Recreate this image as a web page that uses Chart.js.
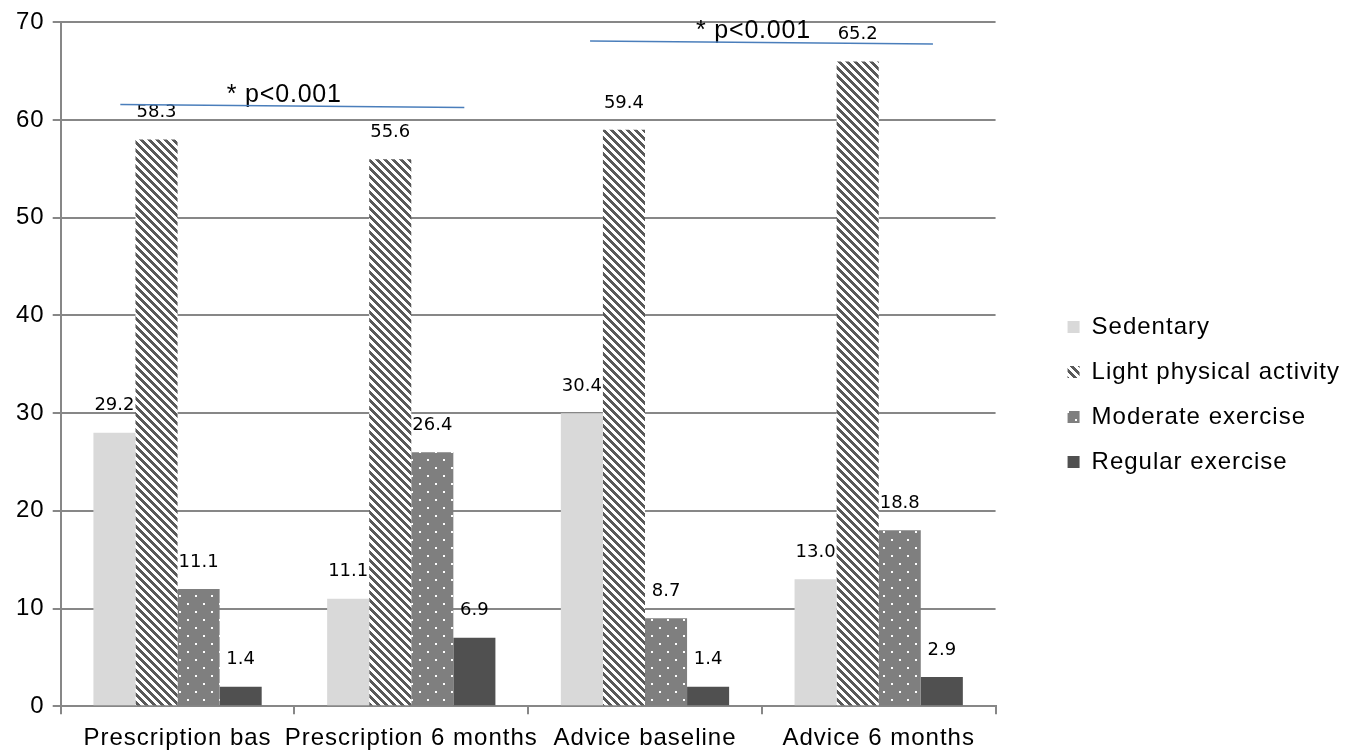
<!DOCTYPE html>
<html>
<head>
<meta charset="utf-8">
<script src="https://cdn.jsdelivr.net/npm/chart.js@4.4.1/dist/chart.umd.min.js"></script>
<style>
  html, body { margin: 0; padding: 0; background: #fff; }
  #wrap { width: 1352px; height: 751px; }
</style>
</head>
<body>
<div id="wrap"><canvas id="chart"></canvas></div>
<script>
const groups = ["Prescription bas", "Prescription 6 months", "Advice baseline", "Advice 6 months"];
const seriesNames = ["Sedentary", "Light physical activity", "Moderate exercise", "Regular exercise"];

// bar heights as drawn in the picture
const sedentary = [28, 11, 30, 13];
const lightActivity = [58, 56, 59, 66];
const moderateExercise = [12, 26, 9, 18];
const regularExercise = [2, 7, 2, 3];

// numbers printed over the bars
const sedentaryLabels = ["29.2", "11.1", "30.4", "13.0"];
const lightActivityLabels = ["58.3", "55.6", "59.4", "65.2"];
const moderateExerciseLabels = ["11.1", "26.4", "8.7", "18.8"];
const regularExerciseLabels = ["1.4", "6.9", "1.4", "2.9"];

const yTicks = [0, 10, 20, 30, 40, 50, 60, 70];
const pNote = "* p<0.001";

// significance brackets, in (category index, value) units
const sigLines = [
  { from: [-0.245, 61.6], to: [1.227, 61.3] },
  { from: [1.765, 68.1], to: [3.232, 67.8] },
];

const AXIS_FONT = "'Liberation Sans', Arial, sans-serif";
const GRID = "#878787";
const SPACING = "1px";

function stripePattern() {
  const c = document.createElement("canvas");
  c.width = 8; c.height = 8;
  const g = c.getContext("2d");
  g.fillStyle = "#fff";
  g.fillRect(0, 0, 8, 8);
  g.fillStyle = "#595959";
  for (let py = 0; py < 8; py++) {
    for (let px = 0; px < 8; px++) {
      if ((px - py + 64) % 8 < 4) g.fillRect(px, py, 1, 1);
    }
  }
  return g.createPattern(c, "repeat");
}

function dotPattern() {
  const c = document.createElement("canvas");
  c.width = 16; c.height = 16;
  const g = c.getContext("2d");
  g.fillStyle = "#7f7f7f";
  g.fillRect(0, 0, 16, 16);
  g.fillStyle = "#fff";
  g.fillRect(3, 3, 2, 2);
  g.fillRect(11, 11, 2, 2);
  return g.createPattern(c, "repeat");
}

const labelSets = [sedentaryLabels, lightActivityLabels, moderateExerciseLabels, regularExerciseLabels];

// Excel-ish wide text for axes and legend
const textSpacing = {
  id: "textSpacing",
  beforeLayout(chart) { chart.ctx.letterSpacing = SPACING; },
  beforeDraw(chart) { chart.ctx.letterSpacing = SPACING; },
};

// push the legend to the right edge, leaving a gap after the plot
const legendShift = {
  id: "legendShift",
  afterLayout(chart) {
    const lg = chart.legend;
    const dx = chart.width - 2 - lg.right;
    lg.left += dx;
    lg.right += dx;
    lg.top += 7;
    lg.bottom += 7;
  },
};

const valueLabels = {
  id: "valueLabels",
  afterDatasetsDraw(chart) {
    const ctx = chart.ctx;
    ctx.save();
    ctx.letterSpacing = "0px";
    ctx.font = "18px 'DejaVu Sans', sans-serif";
    ctx.fillStyle = "#000";
    ctx.textAlign = "center";
    ctx.textBaseline = "middle";
    chart.data.datasets.forEach((ds, i) => {
      chart.getDatasetMeta(i).data.forEach((bar, j) => {
        ctx.fillText(labelSets[i][j], bar.x, bar.y - 27);
      });
    });
    ctx.restore();
  },
};

const sigMarks = {
  id: "sigMarks",
  afterDatasetsDraw(chart) {
    const { ctx, scales: { x, y } } = chart;
    ctx.save();
    ctx.letterSpacing = "0.8px";
    ctx.strokeStyle = "#4a7ebb";
    ctx.lineWidth = 1.5;
    ctx.font = "25px " + AXIS_FONT;
    ctx.fillStyle = "#000";
    ctx.textAlign = "center";
    ctx.textBaseline = "alphabetic";
    sigLines.forEach((s) => {
      const x1 = x.getPixelForValue(s.from[0]);
      const y1 = y.getPixelForValue(s.from[1]);
      const x2 = x.getPixelForValue(s.to[0]);
      const y2 = y.getPixelForValue(s.to[1]);
      ctx.fillText(pNote, (x1 + x2) / 2 - 8, (y1 + y2) / 2 - 4);
      ctx.beginPath();
      ctx.moveTo(x1, y1);
      ctx.lineTo(x2, y2);
      ctx.stroke();
    });
    ctx.restore();
  },
};

const chartData = {
  labels: groups,
  datasets: [
    { label: seriesNames[0], data: sedentary, backgroundColor: "#d9d9d9" },
    { label: seriesNames[1], data: lightActivity, backgroundColor: stripePattern() },
    { label: seriesNames[2], data: moderateExercise, backgroundColor: dotPattern() },
    { label: seriesNames[3], data: regularExercise, backgroundColor: "#505050" },
  ],
};

const chartConfig = {
  type: "bar",
  data: chartData,
  options: {
    responsive: true,
    maintainAspectRatio: false,
    animation: false,
    datasets: {
      bar: {
        categoryPercentage: 0.72,
        barPercentage: 1.0,
        borderWidth: 0,
      },
    },
    layout: {
      padding: { left: 8, top: 12, right: 53, bottom: -12 },
    },
    plugins: {
      tooltip: { enabled: false },
      legend: {
        position: "right",
        labels: {
          boxWidth: 12,
          boxHeight: 12,
          padding: 21,
          color: "#000",
          font: { family: AXIS_FONT, size: 24 },
        },
      },
    },
    scales: {
      x: {
        offset: true,
        grid: {
          display: true,
          offset: true,
          drawOnChartArea: false,
          color: GRID,
          lineWidth: 2,
          tickLength: 8,
        },
        border: { color: GRID, width: 2 },
        ticks: {
          color: "#000",
          padding: 10,
          maxRotation: 0,
          autoSkip: false,
          font: { family: AXIS_FONT, size: 24 },
        },
      },
      y: {
        min: 0,
        max: 70,
        afterBuildTicks: (scale) => {
          scale.ticks = yTicks.map((v) => ({ value: v }));
        },
        grid: {
          color: GRID,
          lineWidth: 2,
          tickLength: 8,
        },
        border: { color: GRID, width: 2 },
        ticks: {
          color: "#000",
          padding: 8,
          font: { family: AXIS_FONT, size: 24 },
        },
      },
    },
  },
  plugins: [textSpacing, legendShift, valueLabels, sigMarks],
};

const chart = new Chart(document.getElementById("chart"), chartConfig);
</script>
</body>
</html>
